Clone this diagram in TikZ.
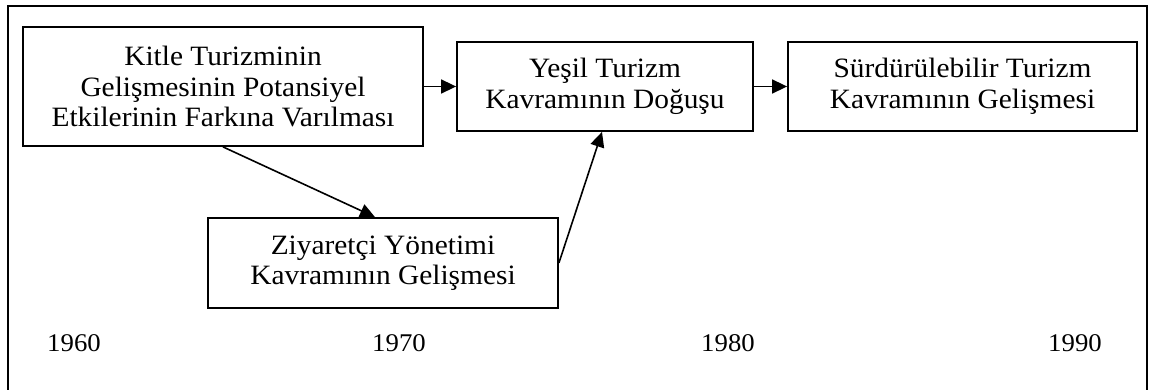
\documentclass[tikz,border=0pt]{standalone}
\usepackage{fontspec}
\setmainfont[FakeStretch=1.05]{Liberation Serif}
\usetikzlibrary{arrows.meta}
\begin{document}
\begin{tikzpicture}[x=1pt,y=-1pt,
  box/.style={draw,line width=1.8pt,rectangle,align=center,inner sep=0pt,
    font=\fontsize{28}{30.5}\selectfont},
  conn/.style={line width=1.6pt,-{Triangle[length=15pt,width=14pt]}},
  year/.style={font=\fontsize{25.5}{30}\selectfont,inner sep=0pt}]
\useasboundingbox (0,0) rectangle (1149,390);
\draw[line width=2.4pt] (8,392) -- (8,6) -- (1147,6) -- (1147,392);
\node[box,minimum width=400pt,minimum height=119pt] (b1) at (223,86.5)
  {Kitle Turizminin\\Gelişmesinin Potansiyel\\Etkilerinin Farkına Varılması};
\node[box,minimum width=350pt,minimum height=90pt] (b2) at (383,263)
  {Ziyaretçi Yönetimi\\Kavramının Gelişmesi};
\node[box,minimum width=296pt,minimum height=89pt] (b3) at (605,86.5)
  {Yeşil Turizm\\Kavramının Doğuşu};
\node[box,minimum width=349pt,minimum height=89pt] (b4) at (962.5,86.5)
  {Sürdürülebilir Turizm\\Kavramının Gelişmesi};
\draw[conn] (b1.east) -- (b3.west);
\draw[conn] (b3.east) -- (b4.west);
\draw[conn] (b1.south) -- ([xshift=-8pt]b2.north);
\draw[conn] (b2.east) -- ([xshift=-3pt]b3.south);
\node[year] (y1) at (74,343) {1960};
\node[year] (y2) at (399,343) {1970};
\node[year] (y3) at (728,343) {1980};
\node[year] (y4) at (1075,343) {1990};
\end{tikzpicture}
\end{document}
